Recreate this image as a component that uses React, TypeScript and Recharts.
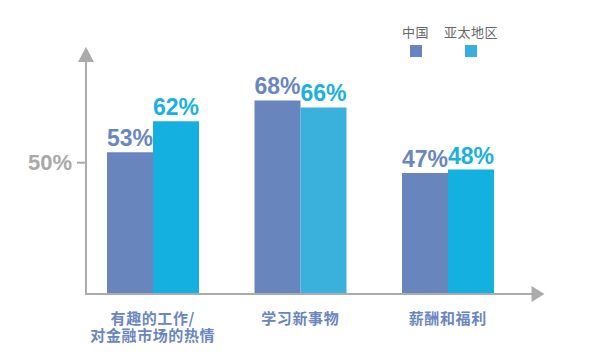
import React from "react";
import { BarChart, Bar, XAxis, YAxis, LabelList, Cell } from "recharts";

const categories = ["有趣的工作/\n对金融市场的热情", "学习新事物", "薪酬和福利"];
const china = [53, 68, 47];
const apac = [62, 66, 48];
const yTicks = [50];
const seriesNames = ["中国", "亚太地区"];

const data = categories.map((name, i) => ({ name, china: china[i], apac: apac[i] }));

const W = 600;
const H = 354;
const PLOT_LEFT = 79;
const PLOT_TOP = 59;
const PLOT_BOTTOM = 294;
const PLOT_RIGHT = 521.5;
const AXIS_X = PLOT_LEFT + 7;
const AXIS_COLOR = "#ababab";

const CHINA_COLOR = "#6885be";
const APAC_COLOR = "#13b0e0";
const APAC_CELLS = ["#13b0e0", "#3ab0dd", "#13b0e0"];
const LEGEND_COLORS = ["#6884bf", "#37afde"];

const NUM_FONT = "'Liberation Sans', Arial, sans-serif";
const CJK_FONT = "'Noto Sans CJK SC', sans-serif";

function YTick({ y, payload }: any) {
  return (
    <g>
      <line x1={AXIS_X - 9} x2={AXIS_X} y1={y} y2={y} stroke={AXIS_COLOR} strokeWidth={2} />
      <text
        x={AXIS_X - 14}
        y={y}
        textAnchor="end"
        dominantBaseline="central"
        fontFamily={NUM_FONT}
        fontWeight="bold"
        fontSize={22}
        fill="#a9a9a9"
      >
        {payload.value}%
      </text>
    </g>
  );
}

function XTick({ x, y, payload }: any) {
  const lines = String(payload.value).split("\n");
  return (
    <g>
      {lines.map((l, i) => (
        <text
          key={i}
          x={x}
          y={y + 22 + i * 17}
          textAnchor="middle"
          fontFamily={CJK_FONT}
          fontWeight="bold"
          fontSize={15}
          letterSpacing={0.6}
          fill="#6a86bf"
        >
          {l}
        </text>
      ))}
    </g>
  );
}

function ChartLegend() {
  return (
    <div
      style={{
        position: "absolute",
        left: 402,
        top: 24,
        display: "flex",
        gap: 15,
        fontFamily: CJK_FONT,
      }}
    >
      {seriesNames.map((label, i) => (
        <div key={label} style={{ display: "flex", flexDirection: "column", alignItems: "center" }}>
          <span style={{ fontSize: 13, lineHeight: "16px", letterSpacing: 0.5, color: "#666" }}>{label}</span>
          <span style={{ width: 12, height: 12, marginTop: 5, background: LEGEND_COLORS[i] }} />
        </div>
      ))}
    </div>
  );
}

export default function App() {
  return (
    <div style={{ position: "absolute", left: 0, top: 0, width: W, height: H, background: "#fff" }}>
      <BarChart
        width={W}
        height={H}
        data={data}
        margin={{ top: PLOT_TOP, right: W - PLOT_RIGHT, bottom: 0, left: PLOT_LEFT - 40 }}
        barGap={0}
        barSize={46}
      >
        <XAxis dataKey="name" height={H - PLOT_BOTTOM} axisLine={false} tickLine={false} tick={<XTick />} interval={0} />
        <YAxis width={40} domain={[12, 80]} ticks={yTicks} axisLine={false} tickLine={false} tick={<YTick />} />
        <Bar dataKey="china" fill={CHINA_COLOR} isAnimationActive={false}>
          <LabelList
            dataKey="china"
            position="top"
            offset={6}
            formatter={(v: any) => `${v}%`}
            fill="#6a86bf"
            fontFamily={NUM_FONT}
            fontWeight="bold"
            fontSize={23}
          />
        </Bar>
        <Bar dataKey="apac" fill={APAC_COLOR} isAnimationActive={false}>
          {data.map((_, i) => (
            <Cell key={i} fill={APAC_CELLS[i]} />
          ))}
          <LabelList
            dataKey="apac"
            position="top"
            offset={6}
            formatter={(v: any) => `${v}%`}
            fill="#1ab0e0"
            fontFamily={NUM_FONT}
            fontWeight="bold"
            fontSize={23}
          />
        </Bar>
      </BarChart>
      <ChartLegend />
      <svg
        width={W}
        height={H}
        style={{ position: "absolute", left: 0, top: 0, pointerEvents: "none" }}
      >
        <line x1={AXIS_X} x2={AXIS_X} y1={PLOT_TOP + 3} y2={PLOT_BOTTOM + 1} stroke={AXIS_COLOR} strokeWidth={2} />
        <polygon
          points={`${AXIS_X - 8},${PLOT_TOP + 3} ${AXIS_X + 8},${PLOT_TOP + 3} ${AXIS_X},${PLOT_TOP - 12}`}
          fill={AXIS_COLOR}
        />
        <line x1={AXIS_X - 1} x2={PLOT_RIGHT + 11} y1={PLOT_BOTTOM} y2={PLOT_BOTTOM} stroke={AXIS_COLOR} strokeWidth={2} />
        <polygon
          points={`${PLOT_RIGHT + 10},${PLOT_BOTTOM - 8} ${PLOT_RIGHT + 10},${PLOT_BOTTOM + 8} ${PLOT_RIGHT + 23},${PLOT_BOTTOM}`}
          fill={AXIS_COLOR}
        />
      </svg>
    </div>
  );
}
